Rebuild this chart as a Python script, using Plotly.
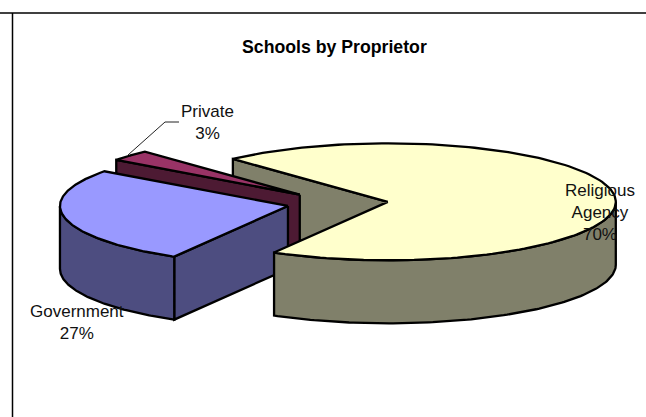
import numpy as np
import plotly.graph_objects as go

categories = ["Religious Agency", "Government", "Private"]
shares = [70.2, 26.8, 3.0]
top_colors = ["#ffffcc", "#9999ff", "#993366"]
side_colors = ["#80806a", "#4d4d80", "#4d1a33"]

W, H = 646, 417
CX, CY, A, B = 337.5, 203.3, 228.0, 58.5
DEPTH, EXPLODE, START = 63.0, 0.222, -42.8
INK = "#000000"


def pt(t, apex):
    r = np.radians(t)
    return apex[0] + A * np.sin(r), apex[1] - B * np.cos(r)


def poly(fig, xs, ys, color, width=2.3):
    fig.add_trace(go.Scatter(
        x=list(xs) + [xs[0]], y=list(ys) + [ys[0]], mode="lines", fill="toself",
        fillcolor=color, line=dict(color=INK, width=width), hoverinfo="skip", showlegend=False))


slices = []
cur = START
for name, v, tc, sc in zip(categories, shares, top_colors, side_colors):
    sweep = v / 100 * 360
    mid = np.radians(cur + sweep / 2)
    apex = (CX + EXPLODE * A * np.sin(mid), CY - EXPLODE * B * np.cos(mid))
    slices.append(dict(name=name, t0=cur, t1=cur + sweep, apex=apex, tc=tc, sc=sc))
    cur += sweep


def top(fig, s):
    ts = np.linspace(s["t0"], s["t1"], 160)
    x, y = pt(ts, s["apex"])
    poly(fig, [s["apex"][0], *x], [s["apex"][1], *y], s["tc"])


def wall(fig, s, t):
    ax, ay = s["apex"]
    x, y = pt(t, s["apex"])
    poly(fig, [ax, x, x, ax], [ay, y, y + DEPTH, ay + DEPTH], s["sc"])


def rim(fig, s):
    lo, hi = max(s["t0"], 90), min(s["t1"], 270)
    if hi <= lo:
        return
    ts = np.linspace(lo, hi, 120)
    x, y = pt(ts, s["apex"])
    poly(fig, [*x, *x[::-1]], [*y, *(y[::-1] + DEPTH)], s["sc"])


fig = go.Figure()
rel, gov, pri = slices

# back to front
wall(fig, rel, rel["t0"])
wall(fig, pri, pri["t0"])
top(fig, pri)
wall(fig, gov, gov["t0"])
rim(fig, gov)
top(fig, gov)
rim(fig, rel)
top(fig, rel)

labels = [
    ("Private<br>3%", 207, 122),
    ("Government<br>27%", 77, 322),
    ("Religious<br>Agency<br>70%", 600, 212),
]
annotations = [
    dict(x=x, y=y, text=t, showarrow=False, xanchor="center", yanchor="middle",
         font=dict(family="Liberation Sans, Arial, sans-serif", size=17, color="#111111"))
    for t, x, y in labels
]
annotations.append(dict(x=334.5, y=46.5, text="<b>Schools by Proprietor</b>", showarrow=False,
                        xanchor="center", yanchor="middle",
                        font=dict(family="Liberation Sans, Arial, sans-serif", size=17.7, color="#000000")))

shapes = [
    dict(type="line", x0=0, x1=W, y0=13, y1=13, line=dict(color="#000", width=1.5)),
    dict(type="line", x0=12.5, x1=12.5, y0=13, y1=H, line=dict(color="#000", width=1.5)),
    dict(type="path", path="M128,155 L165,122 L179,122", line=dict(color="#222", width=1)),
]

fig.update_layout(
    width=W, height=H, margin=dict(l=0, r=0, t=0, b=0),
    paper_bgcolor="white", plot_bgcolor="white",
    xaxis=dict(range=[0, W], visible=False, fixedrange=True),
    yaxis=dict(range=[H, 0], visible=False, fixedrange=True),
    annotations=annotations, shapes=shapes, showlegend=False,
)
fig.write_html(
    "out.html",
    config=dict(displayModeBar=False),
    post_script="document.body.style.margin='0';document.body.style.overflow='hidden';",
)
